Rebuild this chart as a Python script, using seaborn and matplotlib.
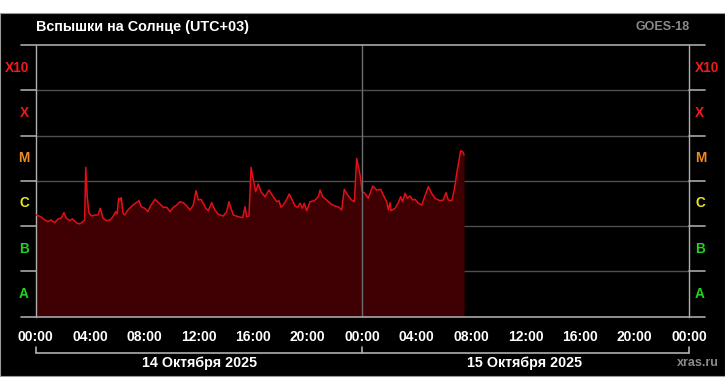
import matplotlib
matplotlib.use("Agg")
import matplotlib.pyplot as plt
from matplotlib.patches import Rectangle
from matplotlib.lines import Line2D
import seaborn as sns
import pandas as pd

# ---- data (hours since 14 Oct 00:00 UTC+03, GOES X-ray flux W/m^2) ----
hours = [0.06, 0.40, 0.68, 0.92, 1.14, 1.41, 1.65, 1.89, 2.09, 2.26, 2.51, 2.70, 3.00,
         3.25, 3.49, 3.61, 3.69, 3.80, 3.93, 4.10, 4.35, 4.59, 4.76, 4.96, 5.20, 5.49,
         5.69, 5.89, 5.99, 6.11, 6.23, 6.30, 6.43, 6.55, 6.79, 7.16, 7.40, 7.60, 7.77,
         8.02, 8.26, 8.41, 8.78, 9.14, 9.39, 9.64, 9.88, 10.12, 10.37, 10.61, 10.86,
         11.11, 11.35, 11.59, 11.79, 11.96, 12.16, 12.32, 12.52, 12.69, 12.94, 13.18,
         13.43, 13.79, 14.04, 14.21, 14.36, 14.53, 14.90, 15.22, 15.39, 15.51, 15.68,
         15.83, 16.00, 16.17, 16.36, 16.56, 16.86, 17.15, 17.47, 17.72, 17.88, 18.03,
         18.20, 18.45, 18.64, 18.86, 19.06, 19.26, 19.43, 19.60, 19.74, 19.92, 20.16,
         20.48, 20.77, 20.90, 21.09, 21.39, 21.70, 22.00, 22.29, 22.49, 22.68, 22.93,
         23.22, 23.42, 23.59, 23.84, 24.00, 24.20, 24.44, 24.77, 25.06, 25.35, 25.60,
         25.80, 25.91, 26.04, 26.11, 26.41, 26.65, 26.82, 26.97, 27.14, 27.31, 27.51,
         27.70, 27.87, 28.12, 28.37, 28.61, 28.85, 29.10, 29.34, 29.71, 29.95, 30.15,
         30.32, 30.57, 30.76, 30.94, 31.11, 31.23, 31.38, 31.48]
flux = [1.75e-6, 1.60e-6, 1.36e-6, 1.25e-6, 1.36e-6, 1.18e-6, 1.43e-6, 1.50e-6, 1.97e-6,
        1.50e-6, 1.31e-6, 1.43e-6, 1.18e-6, 1.11e-6, 1.25e-6, 1.36e-6, 1.98e-5, 4.44e-6,
        1.94e-6, 1.66e-6, 1.75e-6, 1.75e-6, 2.46e-6, 1.50e-6, 1.31e-6, 1.36e-6, 1.60e-6,
        2.07e-6, 1.84e-6, 4.10e-6, 3.75e-6, 4.22e-6, 1.91e-6, 1.75e-6, 2.26e-6, 2.91e-6,
        3.27e-6, 3.62e-6, 2.67e-6, 2.46e-6, 2.07e-6, 2.67e-6, 3.89e-6, 3.06e-6, 2.59e-6,
        2.59e-6, 2.07e-6, 2.59e-6, 2.91e-6, 3.44e-6, 3.27e-6, 2.77e-6, 2.26e-6, 2.91e-6,
        6.03e-6, 3.75e-6, 3.89e-6, 3.18e-6, 2.46e-6, 2.18e-6, 3.27e-6, 2.26e-6, 1.81e-6,
        1.66e-6, 2.07e-6, 3.44e-6, 2.46e-6, 1.75e-6, 1.60e-6, 1.53e-6, 2.67e-6, 1.60e-6,
        1.66e-6, 1.98e-5, 1.04e-5, 5.73e-6, 8.48e-6, 5.73e-6, 4.44e-6, 6.25e-6, 4.44e-6,
        3.44e-6, 3.62e-6, 2.59e-6, 2.91e-6, 3.89e-6, 5.10e-6, 3.75e-6, 2.77e-6, 2.59e-6,
        3.18e-6, 2.46e-6, 3.18e-6, 2.18e-6, 3.44e-6, 3.62e-6, 4.44e-6, 6.25e-6, 4.44e-6,
        3.75e-6, 3.06e-6, 2.77e-6, 2.59e-6, 2.26e-6, 6.47e-6, 4.84e-6, 3.75e-6, 3.44e-6,
        3.13e-5, 1.34e-5, 5.73e-6, 5.28e-6, 4.10e-6, 7.66e-6, 6.25e-6, 6.47e-6, 4.44e-6,
        3.44e-6, 2.26e-6, 3.27e-6, 2.18e-6, 2.46e-6, 3.27e-6, 4.44e-6, 3.44e-6, 5.28e-6,
        4.10e-6, 4.60e-6, 3.75e-6, 3.89e-6, 3.18e-6, 2.91e-6, 4.60e-6, 7.39e-6, 5.28e-6,
        4.10e-6, 3.62e-6, 3.75e-6, 5.44e-6, 3.75e-6, 3.62e-6, 6.25e-6, 1.46e-5, 2.87e-5,
        4.61e-5, 4.39e-5, 3.71e-5]

class_labels = ["A", "B", "C", "M", "X", "X10"]
class_levels = [1e-8, 1e-7, 1e-6, 1e-5, 1e-4, 1e-3, 1e-2]
class_colors = ["#22d422", "#22d422", "#e8e820", "#f08a1c", "#ee1c1c", "#ee1c1c"]
tick_labels = ["00:00", "04:00", "08:00", "12:00", "16:00", "20:00",
               "00:00", "04:00", "08:00", "12:00", "16:00", "20:00", "00:00"]
date_labels = ["14 Октября 2025", "15 Октября 2025"]
title = "Вспышки на Солнце (UTC+03)"

df = pd.DataFrame({"hour": hours, "flux": flux})

sns.set_style("dark")
plt.rcParams["font.family"] = ["Liberation Sans", "DejaVu Sans"]

W, H = 725, 390
fig = plt.figure(figsize=(W / 100, H / 100), dpi=100, facecolor="white")

def fx(px):
    return px / W

def fy(py):
    return (H - py) / H

# black panel
fig.patches.append(Rectangle((0, fy(376)), 1, fy(13) - fy(376), transform=fig.transFigure,
                             facecolor="#000000", edgecolor="#9a9a9a", lw=0.8, zorder=-10))

x0, x1, ytop, ybot = 35.5, 689.0, 45.0, 316.5
ax = fig.add_axes([fx(x0), fy(ybot), fx(x1) - fx(x0), fy(ytop) - fy(ybot)])
ax.set_zorder(2)
ax.set_facecolor("#000000")

ax.fill_between(df["hour"], df["flux"], 1e-8, color="#3e0003", lw=0, zorder=2)
sns.lineplot(data=df, x="hour", y="flux", ax=ax, color="#e01018", lw=1.1, zorder=3)

ax.set_yscale("log")
ax.set_ylim(1e-8, 1e-2)
ax.set_xlim(0, 48)
ax.set_xlabel("")
ax.set_ylabel("")
ax.grid(False)

for s in ["top", "bottom"]:
    ax.spines[s].set_visible(False)
for s in ["left", "right"]:
    ax.spines[s].set_color("#b0b0b0")
    ax.spines[s].set_linewidth(1.0)

# inner grid lines
for lv in class_levels[1:-1]:
    ax.axhline(lv, color="#4e4e4e", lw=1.0, zorder=1)
ax.axvline(24, color="#6e6e6e", lw=1.0, zorder=4)

# outer tick extensions and top/bottom lines
tr = ax.get_yaxis_transform()
xl = (21 - x0) / (x1 - x0)
xr = (705 - x0) / (x1 - x0)
for i, lv in enumerate(class_levels):
    if i == 0 or i == len(class_levels) - 1:
        ax.add_line(Line2D([xl, xr], [lv, lv], transform=tr, color="#a8a8a8", lw=1.2,
                           clip_on=False, zorder=5))
    else:
        ax.add_line(Line2D([xl, 0], [lv, lv], transform=tr, color="#a8a8a8", lw=1.2,
                           clip_on=False, zorder=5))
        ax.add_line(Line2D([1, xr], [lv, lv], transform=tr, color="#a8a8a8", lw=1.2,
                           clip_on=False, zorder=5))

# class labels
for i, lab in enumerate(class_labels):
    ymid = (class_levels[i] * class_levels[i + 1]) ** 0.5
    ax.text((29 - x0) / (x1 - x0), ymid, lab, transform=tr, ha="right", va="center",
            color=class_colors[i], fontsize=9.8, fontweight="bold")
    ax.text((695 - x0) / (x1 - x0), ymid, lab, transform=tr, ha="left", va="center",
            color=class_colors[i], fontsize=9.8, fontweight="bold")

ax.set_yticks([])
ax.set_xticks(range(0, 49, 4))
ax.set_xticklabels(tick_labels)
ax.set_xticks(range(0, 49, 1), minor=True)
ax.tick_params(axis="x", which="major", length=7, width=1.2, color="#a8a8a8",
               labelcolor="white", labelsize=10, pad=2.5, direction="out")
ax.tick_params(axis="x", which="minor", length=4, width=1.0, color="#a8a8a8",
               direction="out")
for t in ax.get_xticklabels():
    t.set_fontweight("bold")

# date bracket
gl = "#b0b0b0"
fig.add_artist(Line2D([fx(x0), fx(x1)], [fy(353), fy(353)], color=gl, lw=1.2))
for px in (x0, 361.5, x1):
    fig.add_artist(Line2D([fx(px), fx(px)], [fy(347), fy(353)], color=gl, lw=1.2))
fig.text(fx(200), fy(363), date_labels[0], ha="center", va="center", color="white",
         fontsize=10.3, fontweight="bold")
fig.text(fx(525), fy(363), date_labels[1], ha="center", va="center", color="white",
         fontsize=10.3, fontweight="bold")
fig.text(fx(719), fy(363), "xras.ru", ha="right", va="center", color="#8a8a8a",
         fontsize=9, fontweight="bold")

fig.text(fx(36), fy(27), title, ha="left", va="center", color="white",
         fontsize=10.4, fontweight="bold")
fig.text(fx(690), fy(27), "GOES-18", ha="right", va="center", color="#8a8a8a",
         fontsize=9, fontweight="bold")

fig.savefig("out.png", dpi=100, facecolor="white")
